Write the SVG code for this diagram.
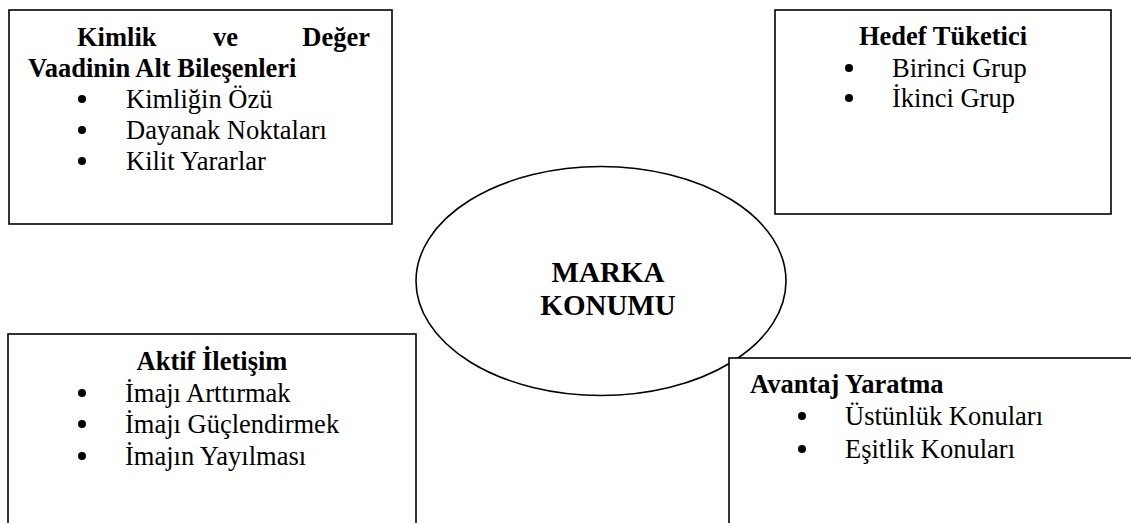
<svg xmlns="http://www.w3.org/2000/svg" width="1131" height="523" viewBox="0 0 1131 523">
  <style>
    text { font-family: "Liberation Serif", "DejaVu Serif", serif; fill: #000000; }
    .box { fill: #ffffff; stroke: #000000; stroke-width: 1.6; }
    .oval { fill: #ffffff; stroke: #000000; stroke-width: 1.6; }
    .head { font-size: 26.5px; font-weight: 700; }
    .item { font-size: 26.5px; font-weight: 400; font-style: normal; }
    .center { font-size: 29px; font-weight: 700; text-anchor: middle; }
    .dot { fill: #000000; stroke: none; }
  </style>
  <rect width="1131" height="523" fill="#ffffff"/>

  <!-- central oval -->
  <g id="marka-konumu">
    <ellipse class="oval" cx="601" cy="281" rx="185" ry="114.5"/>
    <text class="center" x="608" y="282">MARKA</text>
    <text class="center" x="608" y="315">KONUMU</text>
  </g>

  <!-- top-left: identity and value proposition -->
  <g id="kimlik">
    <rect class="box" x="9" y="10" width="383" height="214"/>
    <text class="head" x="77" y="46">Kimlik</text>
    <text class="head" x="213" y="46">ve</text>
    <text class="head" x="370" y="46" text-anchor="end">Değer</text>
    <text class="head" x="28" y="77">Vaadinin Alt Bileşenleri</text>
    <circle class="dot" cx="82" cy="99" r="4"/>
    <text class="item" x="126" y="108">Kimliğin Özü</text>
    <circle class="dot" cx="82" cy="130" r="4"/>
    <text class="item" x="126" y="139">Dayanak Noktaları</text>
    <circle class="dot" cx="82" cy="161" r="4"/>
    <text class="item" x="126" y="170">Kilit Yararlar</text>
  </g>

  <!-- top-right: target consumer -->
  <g id="hedef-tuketici">
    <rect class="box" x="775" y="10" width="336" height="204"/>
    <text class="head" x="943" y="45" text-anchor="middle">Hedef Tüketici</text>
    <circle class="dot" cx="849" cy="68" r="4"/>
    <text class="item" x="892" y="77">Birinci Grup</text>
    <circle class="dot" cx="849" cy="98" r="4"/>
    <text class="item" x="892" y="107">İkinci Grup</text>
  </g>

  <!-- bottom-left: active communication -->
  <g id="aktif-iletisim">
    <rect class="box" x="8" y="334" width="408" height="200"/>
    <text class="head" x="212" y="370" text-anchor="middle">Aktif İletişim</text>
    <circle class="dot" cx="82" cy="393" r="4"/>
    <text class="item" x="125" y="402">İmajı Arttırmak</text>
    <circle class="dot" cx="82" cy="424" r="4"/>
    <text class="item" x="125" y="433">İmajı Güçlendirmek</text>
    <circle class="dot" cx="82" cy="456" r="4"/>
    <text class="item" x="125" y="465">İmajın Yayılması</text>
  </g>

  <!-- bottom-right: creating advantage -->
  <g id="avantaj-yaratma">
    <rect class="box" x="729" y="358" width="420" height="180"/>
    <text class="head" x="750" y="393">Avantaj Yaratma</text>
    <circle class="dot" cx="802" cy="416" r="4"/>
    <text class="item" x="845" y="425">Üstünlük Konuları</text>
    <circle class="dot" cx="802" cy="449" r="4"/>
    <text class="item" x="845" y="458">Eşitlik Konuları</text>
  </g>

  <!-- no connectors are drawn between the blocks -->
  <g id="connectors"/>
</svg>
